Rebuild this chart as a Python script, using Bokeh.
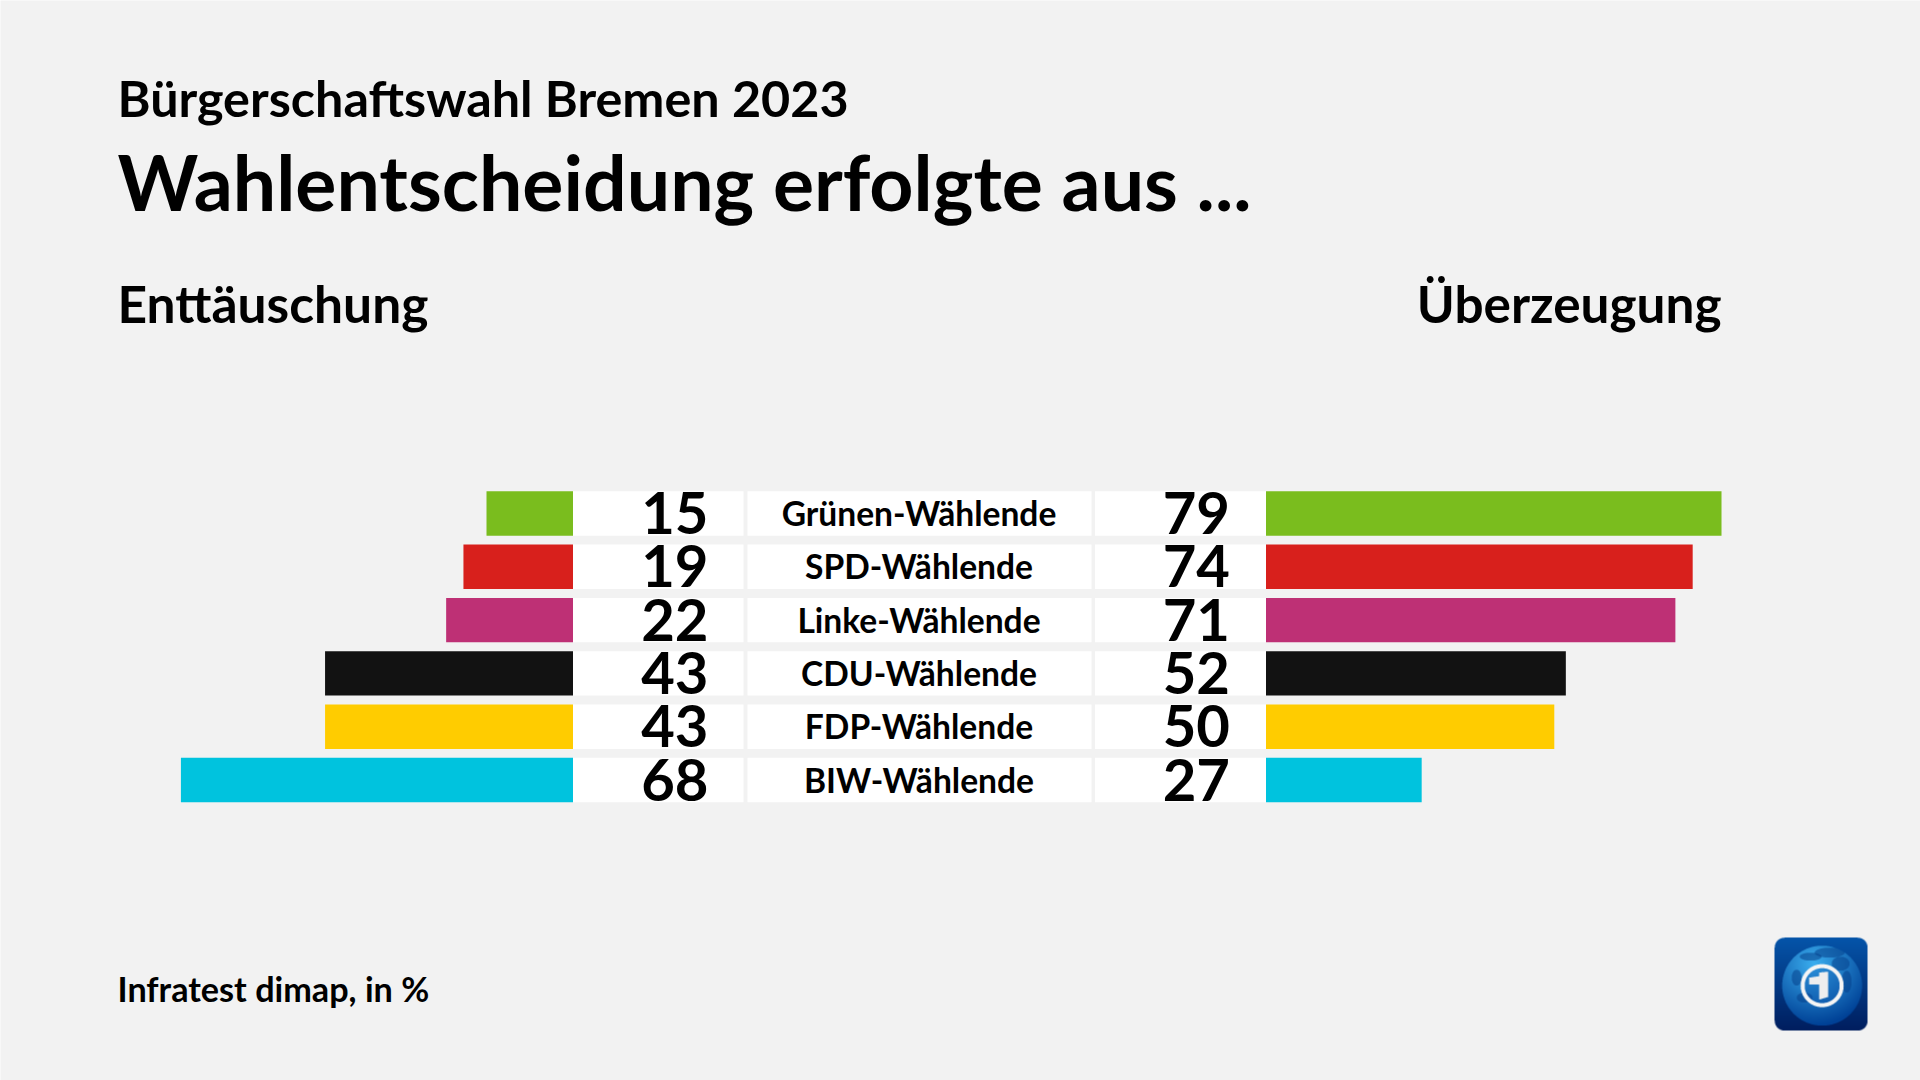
import numpy as np
from bokeh.plotting import figure
from bokeh.models import Range1d, ColumnDataSource
from bokeh.core.properties import value
from bokeh.embed import file_html
from bokeh.resources import INLINE

categories = ["Grünen-Wählende", "SPD-Wählende", "Linke-Wählende", "CDU-Wählende", "FDP-Wählende", "BIW-Wählende"]
enttaeuschung = [15, 19, 22, 43, 43, 68]
ueberzeugung = [79, 74, 71, 52, 50, 27]
colors = ["#7ABD1E", "#D8201C", "#BE3075", "#121212", "#FFCC00", "#00C3DE"]

W, H = 1920, 1080
BG = "#F2F2F2"
FONT = "Lato"
PX_PER_UNIT = 5.766
PITCH = 53.3
LEFT_BASE, RIGHT_BASE = 572.5, 1265.5
ROW0 = 513.0

p = figure(width=W, height=H, output_backend="svg", toolbar_location=None,
           x_axis_location=None, y_axis_location=None, min_border=0,
           background_fill_color=BG, border_fill_color=BG, outline_line_color=None)
p.grid.visible = False
p.x_range = Range1d(-LEFT_BASE / PX_PER_UNIT, (W - LEFT_BASE) / PX_PER_UNIT)
p.extra_x_ranges = {"right": Range1d(-RIGHT_BASE / PX_PER_UNIT, (W - RIGHT_BASE) / PX_PER_UNIT)}
p.y_range = Range1d((H - ROW0) / PITCH, -ROW0 / PITCH)

rows = list(range(len(categories)))
src = ColumnDataSource(dict(y=rows, cat=categories, l=[-v for v in enttaeuschung], r=ueberzeugung,
                            ltxt=[str(v) for v in enttaeuschung], rtxt=[str(v) for v in ueberzeugung],
                            c=colors, zero=[0] * len(rows)))
BH = 44.4 / PITCH

def px(x):
    return (x - LEFT_BASE) / PX_PER_UNIT

def py(y):
    return (y - ROW0) / PITCH

def cell(x0, x1):
    p.quad(left=[px(x0)] * 6, right=[px(x1)] * 6,
           top=[r - BH / 2 for r in rows], bottom=[r + BH / 2 for r in rows],
           fill_color="#FFFFFF", line_color=None)
cell(572.5, 743)
cell(747, 1091)
cell(1094.5, 1265.5)

p.hbar(y="y", left="l", right="zero", height=BH, fill_color="c", line_color=None, source=src)
p.hbar(y="y", left="zero", right="r", height=BH, fill_color="c", line_color=None, source=src, x_range_name="right")

p.text(x="zero", y="y", text="ltxt", x_offset=135.5, y_offset=-0.5, text_align="right", text_baseline="middle",
       text_font=value(FONT), text_font_style="bold", text_font_size="58px", text_color="#000000", source=src)
p.text(x="zero", y="y", text="rtxt", x_offset=-36, y_offset=-0.5, text_align="right", text_baseline="middle",
       text_font=value(FONT), text_font_style="bold", text_font_size="58px", text_color="#000000", source=src,
       x_range_name="right")
p.text(x="zero", y="y", text="cat", x_offset=346, y_offset=-0.5, text_align="center", text_baseline="middle",
       text_font=value(FONT), text_font_style="bold", text_font_size="33.6px", text_color="#000000", source=src)

def label(txt, x, base, size, align="left"):
    p.text(x=[px(x)], y=[py(base)], text=[txt], text_font=value(FONT), text_font_style="bold",
           text_font_size=f"{size}px", text_color="#000000", text_align=align, text_baseline="alphabetic")

label("Bürgerschaftswahl Bremen 2023", 117, 97, 50.3)
label("Wahlentscheidung erfolgte aus ...", 117, 180, 77)
label("Enttäuschung", 117, 302.5, 51.5)
label("Überzeugung", 1721, 302.5, 51.3, "right")
label("Infratest dimap, in %", 117, 988, 34.2)

# logo raster
N = 93 * 3
yy, xx = np.mgrid[0:N, 0:N] / 3.0
rad = 10
dx = np.maximum(np.maximum(rad - xx, xx - (93 - rad)), 0)
dy = np.maximum(np.maximum(rad - yy, yy - (93 - rad)), 0)
mask = (dx**2 + dy**2 <= rad**2)
t = yy / 93
img = np.zeros((N, N, 3))
img[..., 0] = 5 * (1 - t)
img[..., 1] = 85 * (1 - t) + 30 * t
img[..., 2] = 170 * (1 - t) + 95 * t
cx, cy = 47.5, 48
d = np.hypot(xx - cx, yy - cy)
globe = d <= 40
shade = np.clip(np.hypot(xx - cx + 8, yy - cy + 22) / 62, 0, 1)
for i, (a, b) in enumerate([(60, 0), (175, 65), (240, 150)]):
    img[..., i] = np.where(globe, a + (b - a) * shade, img[..., i])
for ex, ey, ea, eb in [(55, 15, 15, 5), (36, 19, 11, 4), (66, 26, 9, 7), (72, 44, 5, 11), (30, 60, 8, 5), (22, 40, 5, 8)]:
    land = globe & (((xx - ex) / ea) ** 2 + ((yy - ey) / eb) ** 2 < 1)
    img[land] = img[land] * 0.45 + np.array([5, 65, 140]) * 0.55
ring = (d <= 21.5) & (d >= 17.5)
disc = d < 17.5
img[disc] = img[disc] * 0.7 + np.array([10, 80, 170]) * 0.3
img[ring] = 245
one = (xx > cx - 3) & (xx < cx + 6) & (yy > cy - 14 + (cx + 6 - xx) * 0.1) & (yy < cy + 14 - (xx - cx + 3) * 0.3)
one |= (xx > cx - 13) & (xx <= cx - 3) & (yy > cy - 8 - (xx - cx + 13) * 0.15) & (yy < cy - 1)
img[one & disc] = 238
alpha = mask * 255
rgba = np.dstack([img, alpha]).astype(np.uint8)
small = rgba.reshape(93, 3, 93, 3, 4).mean(axis=(1, 3)).astype(np.uint8)
view = small.copy().view(dtype=np.uint32).reshape(93, 93)
p.image_rgba(image=[view], x=[px(1774)], y=[py(937)], dw=[93 / PX_PER_UNIT], dh=[93 / PITCH])

open("out.html", "w").write(file_html(p, INLINE))
